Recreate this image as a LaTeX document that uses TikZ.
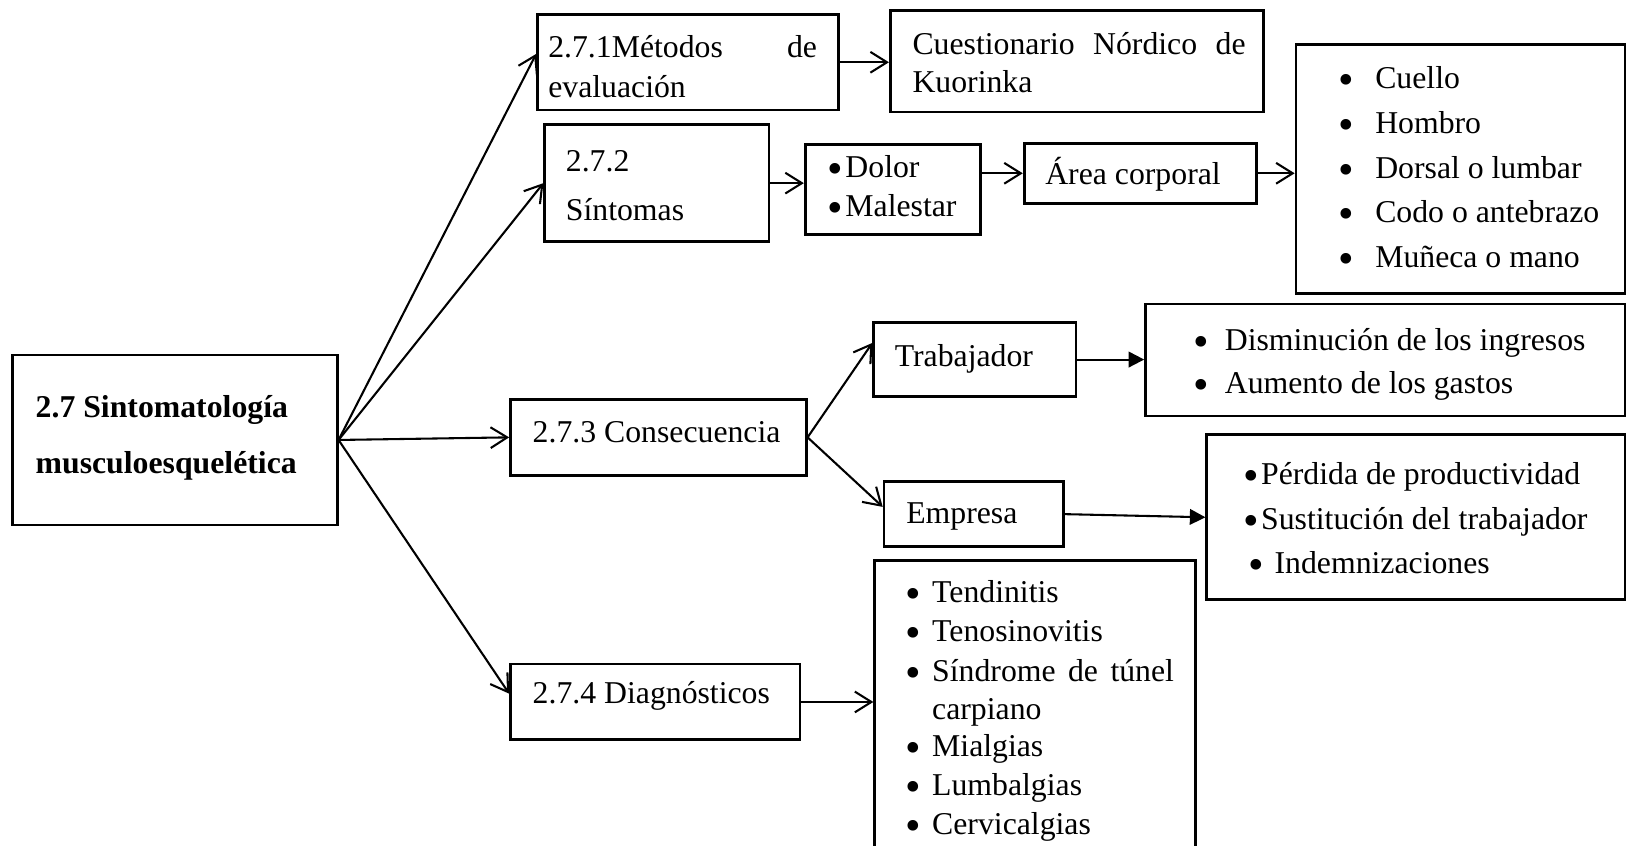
\documentclass[tikz,border=0pt]{standalone}
\usepackage{fontspec}
\setmainfont{Liberation Serif}
\usetikzlibrary{arrows.meta,fit,calc}
\newcommand\fs{\fontsize{15.3}{18}\selectfont}
\newcommand\bt{\raisebox{-0.19em}{\scalebox{1.4}{•}}}
\newcommand\bul[2]{\makebox[#1][l]{\bt}#2}
\tikzset{
  bx/.style={draw, line width=1.3pt, inner sep=0pt, fit={#1}},
  tx/.style={anchor=mid west, inner sep=0pt, font=\fs, yshift=-3pt},
  oarr/.style={line width=1pt, -{Straight Barb[length=8pt,width=10pt,line width=1pt]}},
  farr/.style={line width=1pt, -{Triangle[length=7.5pt,width=7.5pt]}},
}
\begin{document}
\begin{tikzpicture}[x=0.5pt,y=-0.5pt]
\clip (0,0) rectangle (1568,815);
\fill[white] (0,0) rectangle (1568,815);
% boxes
\node[bx={(12,342) (325,506)}] (main) {};
\node[bx={(518,14) (808,106)}] (m1) {};
\node[bx={(858,10) (1218,108)}] (cues) {};
\node[bx={(525,120) (741,233)}] (m2) {};
\node[bx={(776,139) (945,226)}] (dolor) {};
\node[bx={(987,138) (1211,196)}] (area) {};
\node[bx={(1249,43) (1566,283)}] (cuello) {};
\node[bx={(492,385) (777,458)}] (m3) {};
\node[bx={(842,311) (1037,382)}] (trab) {};
\node[bx={(1104,293) (1566,401)}] (list1) {};
\node[bx={(852,464) (1025,527)}] (emp) {};
\node[bx={(1163,419) (1566,578)}] (list2) {};
\node[bx={(492,640) (771,713)}] (m4) {};
\node[bx={(843,540) (1152,840)}] (diag) {};
% texts
\node[tx, font=\fs\bfseries] (t0a) at (34,392) {2.7 Sintomatología};
\node[tx, font=\fs\bfseries] (t0b) at (34,446) {musculoesquelética};
\node[tx] (t1a) at (528,45) {\makebox[129.5pt][s]{2.7.1Métodos de}};
\node[tx] (t1b) at (528,83) {evaluación};
\node[tx] (tca) at (879,42) {\makebox[160.5pt][s]{Cuestionario Nórdico de}};
\node[tx] (tcb) at (879,79) {Kuorinka};
\node[tx] (t2a) at (545,155) {2.7.2};
\node[tx] (t2b) at (545,202) {Síntomas};
\node[tx] (tda) at (797,160) {\bt\hspace{1.2pt}Dolor};
\node[tx] (tdb) at (797,198) {\bt\hspace{1.2pt}Malestar};
\node[tx] (tar) at (1007,167) {Área corporal};
\node[tx] (tc1) at (1290,75) {\bul{17.5pt}{Cuello}};
\node[tx] (tc2) at (1290,118) {\bul{17.5pt}{Hombro}};
\node[tx] (tc3) at (1290,161) {\bul{17.5pt}{Dorsal o lumbar}};
\node[tx] (tc4) at (1290,204) {\bul{17.5pt}{Codo o antebrazo}};
\node[tx] (tc5) at (1290,247) {\bul{17.5pt}{Muñeca o mano}};
\node[tx] (t3) at (513,416) {2.7.3 Consecuencia};
\node[tx] (ttr) at (862,343) {Trabajador};
\node[tx] (tl1a) at (1150,327) {\bul{15pt}{Disminución de los ingresos}};
\node[tx] (tl1b) at (1150,369) {\bul{15pt}{Aumento de los gastos}};
\node[tx] (tem) at (873,494) {Empresa};
\node[tx] (tl2a) at (1198,456) {\bt\hspace{1pt}Pérdida de productividad};
\node[tx] (tl2b) at (1198,500) {\bt\hspace{1pt}Sustitución del trabajador};
\node[tx] (tl2c) at (1203,542) {\bul{12.5pt}{Indemnizaciones}};
\node[tx] (t4) at (513,667) {2.7.4 Diagnósticos};
\node[tx] (tg1) at (872,570) {\bul{13pt}{Tendinitis}};
\node[tx] (tg2) at (872,608) {\bul{13pt}{Tenosinovitis}};
\node[tx] (tg3) at (872,646) {\bul{13pt}{\makebox[116.5pt][s]{Síndrome de túnel}}};
\node[tx] (tg3b) at (898,683) {carpiano};
\node[tx] (tg4) at (872,718) {\bul{13pt}{Mialgias}};
\node[tx] (tg5) at (872,756) {\bul{13pt}{Lumbalgias}};
\node[tx] (tg6) at (872,794) {\bul{13pt}{Cervicalgias}};
% connectors
\draw[oarr] (main.east) -- ($(m1.west)+(0,-8)$);
\draw[oarr] (main.east) -- (m2.west);
\draw[oarr] (main.east) -- (m3.west);
\draw[oarr] (main.east) -- ($(m4.west)+(0,-8)$);
\draw[oarr] (m1.east) -- (m1.east -| cues.west);
\draw[oarr] (m2.east) -- (m2.east -| dolor.west);
\draw[oarr] (area.west -| dolor.east) -- (area.west);
\draw[oarr] (area.east) -- (area.east -| cuello.west);
\draw[oarr] (m3.east) -- ($(trab.west)+(0,-16)$);
\draw[oarr] (m3.east) -- ($(emp.west)+(0,-7)$);
\draw[farr] (trab.east) -- (trab.east -| list1.west);
\draw[farr] (emp.east) -- (list2.west);
\draw[oarr] (m4.east) -- (m4.east -| diag.west);
\end{tikzpicture}
\end{document}
